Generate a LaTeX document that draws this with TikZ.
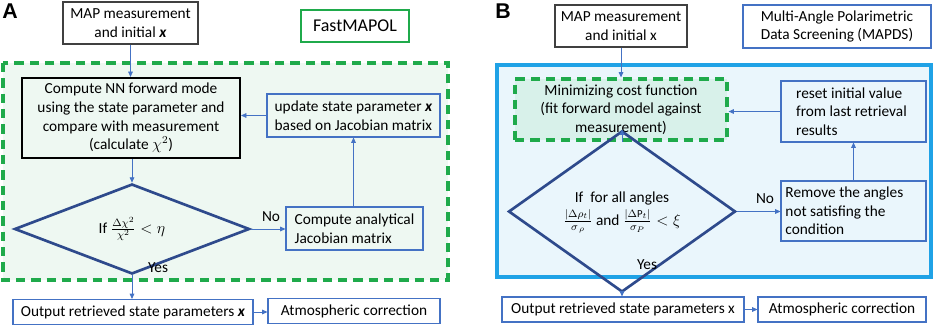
\documentclass[tikz,border=0pt]{standalone}
\usepackage{fontspec}
\setmainfont{Carlito}
\newfontfamily\labfont{Liberation Sans}
\usetikzlibrary{shapes.geometric,arrows.meta}
\definecolor{bbord}{HTML}{4472C4}
\definecolor{gdash}{HTML}{1FAA4B}
\definecolor{gfill}{HTML}{EEF8F2}
\definecolor{bfill}{HTML}{EAF6FC}
\definecolor{cyanb}{HTML}{1FA2E6}
\definecolor{tfill}{HTML}{D8F1EA}
\definecolor{navy}{HTML}{2E4A8C}
\definecolor{dgray}{HTML}{404040}
\tikzset{
  px/.style={x=0.75pt,y=-0.75pt},
  box/.style={draw=bbord,line width=0.8pt,inner sep=2pt,font=\fontsize{11.5}{14}\selectfont},
  graybox/.style={box,draw=dgray,fill=white},
  gdashed/.style={draw=gdash,line width=2.4pt,dash pattern=on 7pt off 4.5pt},
  dia/.style={diamond,draw=navy,line width=2pt,inner sep=0pt,font=\fontsize{11.5}{14}\selectfont},
  arr/.style={draw=bbord,line width=0.6pt,-{Triangle[length=4pt,width=3.5pt]}},
  lbl/.style={font=\fontsize{11.5}{14}\selectfont},
  panel/.style={font=\labfont\bfseries\fontsize{16}{18}\selectfont}
}
\begin{document}
\begin{tikzpicture}[px]
\useasboundingbox (0,0) rectangle (934,331);
% ---------- Panel A ----------
\node[panel] (labA) at (10,11) {A};
\fill[gfill] (3,63) rectangle (448,280);
\draw[gdashed] (3,63) rectangle (448,280);
\node[graybox,minimum width=101.25pt,minimum height=31.5pt,align=center] (mapA) at (130.5,23) {MAP measurement\\and initial \textbf{\textit{x}}};
\node[draw=gdash,line width=1.2pt,minimum width=81pt,minimum height=24pt,font=\fontsize{13.5}{16}\selectfont] (fast) at (355,26) {FastMAPOL};
\node[box,draw=black,line width=1.6pt,minimum width=163.5pt,minimum height=60pt,align=center] (nn) at (131,118) {Compute NN forward mode\\using the state parameter and\\compare with measurement\\(calculate $\chi^2$)};
\node[box,minimum width=129.75pt,minimum height=32.25pt,align=left] (upd) at (353.5,115.5) {update state parameter \textbf{\textit{x}}\\based on Jacobian matrix};
\node[dia,minimum width=176.25pt,minimum height=46.5pt] (diamA) at (132,229) {If $\frac{\Delta\chi^2}{\chi^2}<\eta$};
\node[box,minimum width=102.75pt,minimum height=32.25pt,align=left] (jac) at (354.5,228.5) {Compute analytical\\Jacobian matrix};
\node[box,fill=white,minimum width=180pt,minimum height=18.75pt] (outA) at (133,312) {Output retrieved state parameters \textbf{\textit{x}}};
\node[box,fill=white,minimum width=129pt,minimum height=18.75pt] (atmA) at (354,311) {Atmospheric correction};
\node[lbl] (noA) at (271,217) {No};
\node[lbl] (yesA) at (158,268) {Yes};
\draw[arr] (mapA.south) -- (mapA.south |- nn.north);
\draw[arr] (nn.south -| diamA.north) -- (diamA.north);
\draw[arr] (upd.west) -- (upd.west -| nn.east);
\draw[arr] (jac.north -| upd.south) -- (upd.south);
\draw[arr] (diamA.east) -- (diamA.east -| jac.west);
\draw[arr] (diamA.south) -- (diamA.south |- outA.north);
\draw[arr] (outA.east) -- (outA.east -| atmA.west);
% ---------- Panel B ----------
\node[panel] (labB) at (503,11) {B};
\fill[bfill] (497,65) rectangle (931,277);
\draw[cyanb,line width=2.3pt] (497,65) rectangle (931,277);
\node[graybox,minimum width=99pt,minimum height=31.5pt,align=center] (mapB) at (621,26) {MAP measurement\\and initial x};
\node[box,fill=white,line width=1.7pt,minimum width=141pt,minimum height=32.25pt,align=center] (mapds) at (837,26.5) {Multi-Angle Polarimetric\\Data Screening (MAPDS)};
\node[box,gdashed,fill=tfill,minimum width=159pt,minimum height=45.75pt,align=center] (minB) at (621,109.5) {Minimizing cost function\\(fit forward model against\\measurement)};
\node[box,minimum width=108.75pt,minimum height=45.75pt,align=left] (reset) at (853.5,111.5) {reset initial value\\from last retrieval\\results\hspace*{55pt}};
\node[dia,minimum width=170.25pt,minimum height=68.25pt] (diamB) at (622,211.5) {\begin{tabular}{@{}c@{}}If\ \ for all angles\\[1pt]$\frac{|\Delta\rho_t|}{\sigma_{\,\rho}}$ and $\frac{|\Delta\mathrm{P}_t|}{\sigma_P}<\xi$\end{tabular}};
\node[box,minimum width=108.75pt,minimum height=45pt,align=left] (remove) at (853.5,211) {Remove the angles\\not satisfing the\\condition\hspace*{58pt}};
\node[box,fill=white,minimum width=181.5pt,minimum height=18.75pt] (outB) at (623,309.5) {Output retrieved state parameters x};
\node[box,fill=white,minimum width=126pt,minimum height=18.75pt] (atmB) at (842,309.5) {Atmospheric correction};
\node[lbl] (noB) at (765,199) {No};
\node[lbl] (yesB) at (647,265) {Yes};
\draw[arr] (mapB.south) -- (mapB.south |- minB.north);
\draw[arr] (minB.south -| diamB.north) -- (diamB.north);
\draw[arr] (reset.west) -- (reset.west -| minB.east);
\draw[arr] (remove.north) -- (reset.south);
\draw[arr] (diamB.east) -- (diamB.east -| remove.west);
\draw[arr] (diamB.south) -- (diamB.south |- outB.north);
\draw[arr] (outB.east) -- (outB.east -| atmB.west);
\end{tikzpicture}
\end{document}
